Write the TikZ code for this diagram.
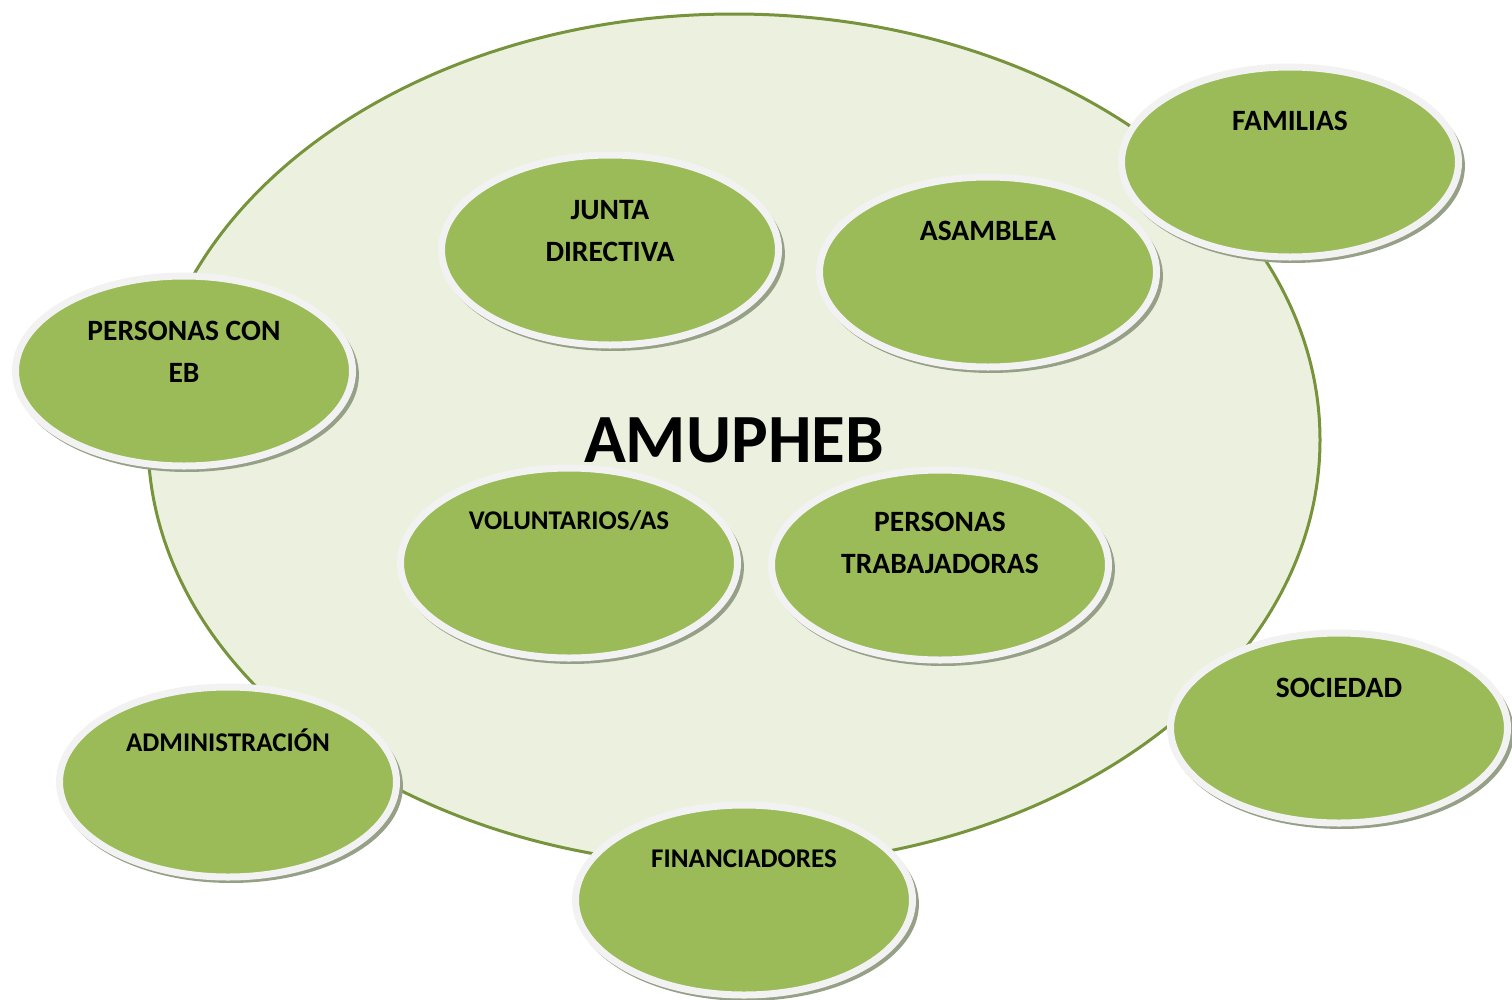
\documentclass[tikz,border=0pt]{standalone}
\usepackage{fontspec}
\setmainfont{Carlito}
\usepackage{tikz}
\usetikzlibrary{shapes.geometric,shadows}

\definecolor{bigfill}{RGB}{235,241,222}
\definecolor{bigline}{RGB}{119,147,60}
\definecolor{leaf}{RGB}{155,187,89}
\definecolor{ring}{RGB}{242,242,242}
\definecolor{shade}{RGB}{150,160,135}

\tikzset{
	actor/.style={ellipse, fill=leaf, draw=ring, line width=7pt,
		minimum width=337pt, minimum height=190pt, inner sep=0pt,
		drop shadow={shadow xshift=3pt, shadow yshift=-4pt, shadow scale=1.02, fill=shade, opacity=1}},
	actortext/.style={font=\bfseries\fontsize{29.5}{42}\selectfont, align=center, inner sep=0pt},
	smalltext/.style={actortext, font=\bfseries\fontsize{27}{42}\selectfont}
}

\begin{document}
\begin{tikzpicture}[x=1pt,y=1pt,yscale=-1]
	\useasboundingbox (0,0) rectangle (1512,999);
	
	% asociacion
	\draw [fill=bigfill, draw=bigline, line width=3pt] (734,440) ellipse [x radius=586, y radius=426];
	\node [font=\bfseries\fontsize{69}{69}\selectfont, inner sep=0pt] (amupheb) at (734,440) {AMUPHEB};
	
	% grupos
	\node [actor] (junta) at (610,250) {};
	\node [actortext] (junta-t) at (610,231) {JUNTA\\DIRECTIVA};
	\node [actor] (asamblea) at (988,272) {};
	\node [actortext] (asamblea-t) at (988,231) {ASAMBLEA};
	\node [actor] (familias) at (1290,162) {};
	\node [actortext] (familias-t) at (1290,121) {FAMILIAS};
	\node [actor] (personas) at (184,371) {};
	\node [actortext] (personas-t) at (184,352) {PERSONAS CON\\EB};
	\node [actor] (voluntarios) at (569,563) {};
	\node [smalltext] (voluntarios-t) at (569,521) {VOLUNTARIOS/AS};
	\node [actor] (trabajadoras) at (940,565) {};
	\node [actortext] (trabajadoras-t) at (940,543) {PERSONAS\\TRABAJADORAS};
	\node [actor] (sociedad) at (1339,728) {};
	\node [actortext] (sociedad-t) at (1339,688) {SOCIEDAD};
	\node [actor] (admin) at (228,782) {};
	\node [smalltext] (admin-t) at (228,740) {ADMINISTRACIÓN};
	\node [actor] (financiadores) at (744,900) {};
	\node [smalltext] (financiadores-t) at (744,859) {FINANCIADORES};
	
\end{tikzpicture}
\end{document}
